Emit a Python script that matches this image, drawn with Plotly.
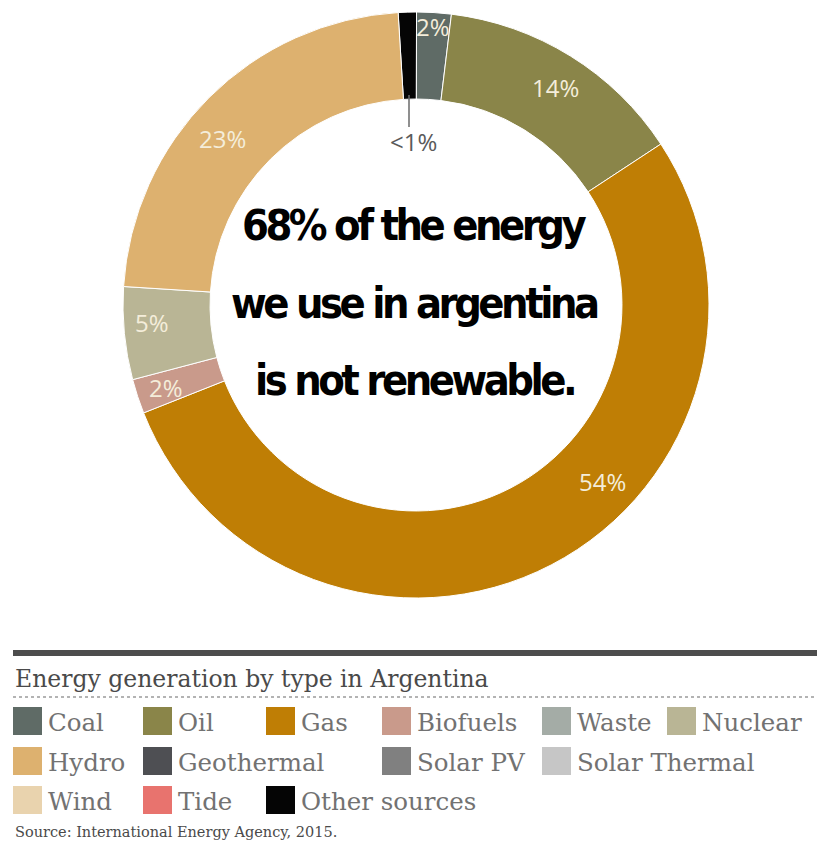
import plotly.graph_objects as go

W, H = 817, 845

# ---- data ----
sources = ["Other sources", "Coal", "Oil", "Gas", "Biofuels", "Nuclear", "Hydro"]
shares = [1.0, 1.9, 13.8, 53.2, 1.9, 5.1, 23.0]
share_labels = ["<1%", "2%", "14%", "54%", "2%", "5%", "23%"]
slice_colors = ["#050505", "#5F6B66", "#8A8549", "#BF7E05", "#C99A8B", "#B9B595", "#DDB16F"]

legend_rows = [
    ["Coal", "Oil", "Gas", "Biofuels", "Waste", "Nuclear"],
    ["Hydro", "Geothermal", "Solar PV", "Solar Thermal"],
    ["Wind", "Tide", "Other sources"],
]
legend_colors = {
    "Coal": "#5F6B66", "Oil": "#8A8549", "Gas": "#BF7E05", "Biofuels": "#C99A8B",
    "Waste": "#A4ACA6", "Nuclear": "#B9B595", "Hydro": "#DDB16F", "Geothermal": "#4E4F53",
    "Solar PV": "#808080", "Solar Thermal": "#C6C6C6", "Wind": "#E9D3AE", "Tide": "#E8736E",
    "Other sources": "#050505",
}

headline = ["68% of the energy", "we use in argentina", "is not renewable."]
title_text = "Energy generation by type in Argentina"
source_text = "Source: International Energy Agency, 2015."

# ---- layout helpers (pixel -> paper) ----
def px(x):
    return x / W

def py(y):
    return 1 - y / H

CX, CY, R = 416, 305, 293

fig = go.Figure()
fig.add_trace(go.Pie(
    values=shares, labels=sources, sort=False, direction="clockwise", rotation=-3.5,
    hole=0.703,
    marker=dict(colors=slice_colors, line=dict(color="white", width=1)),
    textinfo="none", hoverinfo="label+percent", showlegend=False,
    domain=dict(x=[px(CX - R), px(CX + R)], y=[py(CY + R), py(CY - R)]),
))

annotations = []
shapes = []

# slice labels
label_pos = [(413, 141), (433, 26), (555, 88), (602, 481), (166, 387), (152, 322), (222, 138)]
for i, (txt, (x, y)) in enumerate(zip(share_labels, label_pos)):
    annotations.append(dict(
        x=px(x), y=py(y), xref="paper", yref="paper", text=txt, showarrow=False,
        xanchor="center", yanchor="middle",
        font=dict(family="Open Sans", size=24, color="#5A5A5A" if i == 0 else "#F4EDDA"),
    ))
# leader line for the smallest slice
shapes.append(dict(type="line", xref="paper", yref="paper", x0=px(409), x1=px(409),
                   y0=py(95), y1=py(127), line=dict(color="#6A6A6A", width=1.5)))

# headline text in the hole
head_font = "'DejaVu Sans Condensed', 'Liberation Sans Narrow', 'Liberation Sans', sans-serif"
for txt, y in zip(headline, [225, 303, 380]):
    annotations.append(dict(
        x=px(CX - 2), y=py(y), xref="paper", yref="paper",
        text='<span style="letter-spacing:-3.5px"><b>' + txt + "</b></span>",
        showarrow=False, xanchor="center", yanchor="middle",
        font=dict(family=head_font, size=43, color="#000000"),
    ))

# bottom section
shapes.append(dict(type="rect", xref="paper", yref="paper", x0=px(13), x1=1,
                   y0=py(656), y1=py(650), fillcolor="#4D4D4D", line=dict(width=0)))
shapes.append(dict(type="line", xref="paper", yref="paper", x0=px(13), x1=1,
                   y0=py(697), y1=py(697), line=dict(color="#9A9A9A", width=1.5, dash="dot")))
annotations.append(dict(
    x=px(13), y=py(679), xref="paper", yref="paper", text=title_text, showarrow=False,
    xanchor="left", yanchor="middle",
    font=dict(family="DejaVu Serif", size=23.5, color="#4A4A4A"),
))

col_x = [[13, 143, 266, 382, 542, 667], [13, 143, 382, 542], [13, 143, 266]]
row_y = [721, 761, 800]
for names, xs, yc in zip(legend_rows, col_x, row_y):
    for name, x0 in zip(names, xs):
        shapes.append(dict(type="rect", xref="paper", yref="paper",
                           x0=px(x0), x1=px(x0 + 29), y0=py(yc + 14), y1=py(yc - 14),
                           fillcolor=legend_colors[name], line=dict(width=0)))
        annotations.append(dict(
            x=px(x0 + 33), y=py(yc + 1), xref="paper", yref="paper", text=name,
            showarrow=False, xanchor="left", yanchor="middle",
            font=dict(family="DejaVu Serif", size=24.5, color="#727272"),
        ))

annotations.append(dict(
    x=px(13), y=py(832), xref="paper", yref="paper", text=source_text, showarrow=False,
    xanchor="left", yanchor="middle",
    font=dict(family="DejaVu Serif", size=14.5, color="#4A4A4A"),
))

fig.update_layout(
    width=W, height=H, margin=dict(l=0, r=0, t=0, b=0),
    paper_bgcolor="white", plot_bgcolor="white",
    annotations=annotations, shapes=shapes,
)

fig.write_html("out.html")
